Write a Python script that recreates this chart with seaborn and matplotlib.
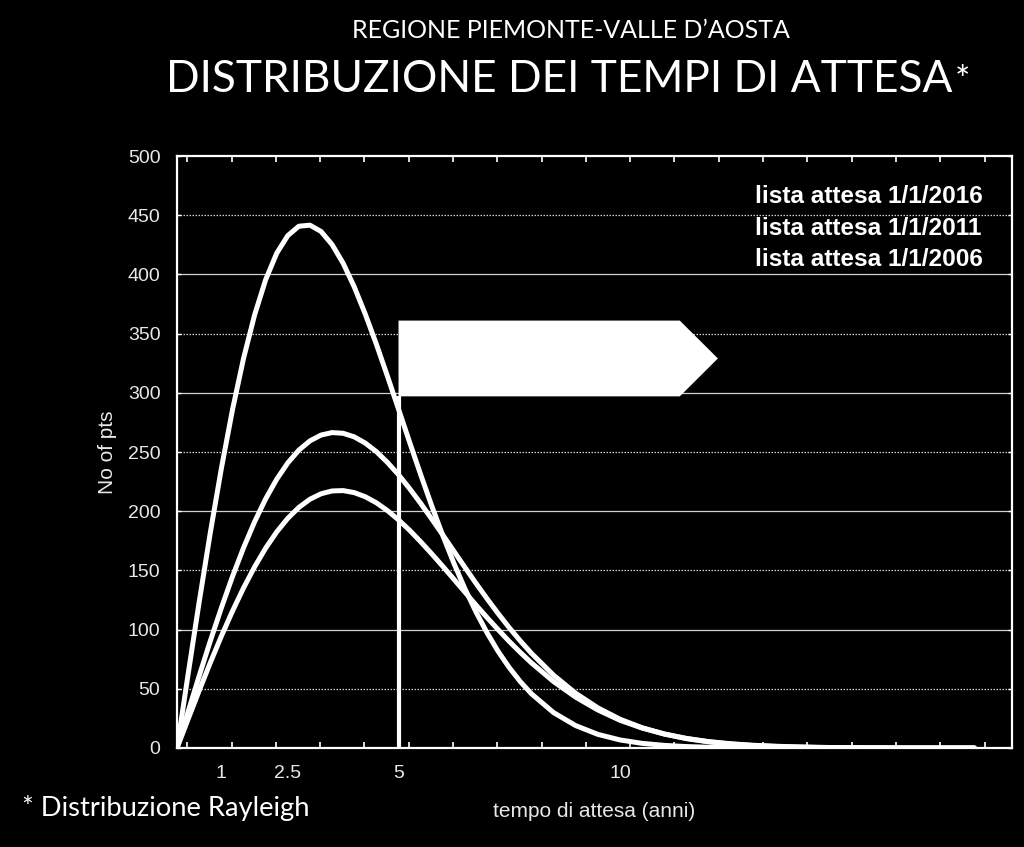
import numpy as np
import pandas as pd
import matplotlib.pyplot as plt
import seaborn as sns

# tempo di attesa (anni) e numero di pazienti
anni = [0, 0.25, 0.5, 0.75, 1, 1.25, 1.5, 1.75, 2, 2.25, 2.5, 2.75, 3, 3.25, 3.5, 3.75,
        4, 4.25, 4.5, 4.75, 5, 5.25, 5.5, 5.75, 6, 6.25, 6.5, 6.75, 7, 7.25, 7.5, 7.75,
        8, 8.5, 9, 9.5, 10, 10.5, 11, 11.5, 12, 12.5, 13, 13.5, 14, 14.5, 15, 15.5,
        16, 16.5, 17, 17.5, 18]
lista_2016 = [0, 62.4, 123.4, 181.7, 236.0, 285.4, 328.9, 365.7, 395.5, 417.9, 432.8,
              440.7, 441.6, 436.3, 425.2, 409.4, 389.5, 366.4, 341.0, 314.0, 286.2,
              258.3, 230.9, 204.5, 179.4, 156.0, 134.4, 114.8, 97.2, 81.5, 67.9, 56.0,
              45.8, 29.9, 18.9, 11.5, 6.8, 3.9, 2.2, 1.2, 0.6, 0.3, 0.1,
              0, 0, 0, 0, 0, 0, 0, 0, 0, 0]
lista_2011 = [0, 30.7, 60.9, 90.3, 118.3, 144.7, 169.0, 191.0, 210.4, 227.0, 240.8,
              251.6, 259.4, 264.3, 266.4, 265.8, 262.8, 257.5, 250.3, 241.2, 230.8,
              219.1, 206.6, 193.4, 179.9, 166.2, 152.5, 139.0, 126.0, 113.5, 101.6, 90.4,
              80.0, 61.5, 46.2, 33.9, 24.3, 17.1, 11.8, 7.9, 5.2, 3.3, 2.1, 1.3, 0.8,
              0.5, 0.3, 0.2, 0.1, 0, 0, 0, 0]
lista_2006 = [0, 24.4, 48.5, 72.0, 94.4, 115.5, 135.1, 152.9, 168.8, 182.5, 194.0,
              203.2, 210.1, 214.7, 217.1, 217.4, 215.7, 212.2, 207.1, 200.5, 192.7,
              183.9, 174.2, 164.0, 153.4, 142.5, 131.6, 120.7, 110.1, 99.9, 90.0, 80.7,
              71.9, 56.1, 42.9, 32.1, 23.4, 16.8, 11.8, 8.1, 5.4, 3.6, 2.3, 1.5, 0.9,
              0.5, 0.3, 0.2, 0.1, 0, 0, 0, 0]
etichette = ['lista attesa 1/1/2016', 'lista attesa 1/1/2011', 'lista attesa 1/1/2006']
xtick_val = [1, 2.5, 5, 10]
xtick_lab = ['1', '2.5', '5', '10']
soglia = 5
freccia_fine = 11.35
freccia_punta = 12.21
freccia_y = (297, 361)

df = pd.DataFrame({
    'anni': anni * 3,
    'pts': lista_2016 + lista_2011 + lista_2006,
    'lista': [etichette[0]] * len(anni) + [etichette[1]] * len(anni) + [etichette[2]] * len(anni),
})

sns.set_theme(style='ticks', rc={'figure.facecolor': 'black', 'axes.facecolor': 'black',
                                 'axes.edgecolor': 'white', 'text.color': 'white'})
plt.rcParams['font.family'] = ['Liberation Sans', 'DejaVu Sans']

fig = plt.figure(figsize=(10.24, 8.47), dpi=100)
ax = fig.add_axes([0.1729, 0.1169, 0.8154, 0.6989])

for liv in range(50, 500, 50):
    ax.axhline(liv, color='#d0d0d0', lw=0.9, zorder=0,
               ls='-' if liv % 100 == 0 else (0, (1.2, 1.2)))

sns.lineplot(data=df, x='anni', y='pts', hue='lista', hue_order=etichette,
             palette=['white'] * 3, linewidth=3.6, ax=ax, zorder=3)

ax.vlines(soglia, 0, freccia_y[0], color='white', lw=3, zorder=4)
ax.fill([soglia, freccia_fine, freccia_punta, freccia_fine, soglia],
        [freccia_y[1], freccia_y[1], sum(freccia_y) / 2, freccia_y[0], freccia_y[0]],
        color='white', zorder=5, lw=0)

ax.set_xlim(0, 18.85)
ax.set_ylim(0, 500)
ax.set_yticks(range(0, 501, 50))
ax.set_xticks(xtick_val)
ax.set_xticklabels(xtick_lab)
ax.set_xticks([0.23 + k for k in range(19)], minor=True)
ax.tick_params(axis='x', which='major', length=0, pad=12, labelsize=14, colors='#e8e8e8')
ax.tick_params(axis='x', which='minor', direction='in', length=4, width=1.2,
               top=True, bottom=True, color='white')
ax.tick_params(axis='y', direction='in', length=3, width=1, left=True, right=True,
               pad=12, labelsize=14, colors='#e8e8e8')
ax.tick_params(axis='y', color='white')
for sp in ax.spines.values():
    sp.set_color('white')
    sp.set_linewidth(1.6)

ax.set_xlabel('tempo di attesa (anni)', fontsize=15, color='#e8e8e8', labelpad=15)
ax.set_ylabel('No of pts', fontsize=15, color='#e8e8e8', labelpad=8)

leg = ax.legend(loc='upper right', bbox_to_anchor=(0.965, 0.951), frameon=False,
                handlelength=0, handletextpad=0, borderaxespad=0, borderpad=0,
                labelspacing=0.35, prop={'weight': 'bold', 'size': 17.6})
for h in leg.legend_handles:
    h.set_visible(False)
for t in leg.get_texts():
    t.set_color('white')

fig.text(0.5576, 1 - 30 / 847, 'REGIONE PIEMONTE-VALLE D\u2019AOSTA', ha='center', va='center',
         fontsize=18, family='Lato', color='white')
tit = fig.text(0.546, 1 - 79 / 847, 'DISTRIBUZIONE DEI TEMPI DI ATTESA', ha='center', va='center',
               fontsize=31.9, family='Lato', color='white')
ax.annotate('*', xy=(1, 0.5), xycoords=tit, xytext=(2, -2), textcoords='offset points',
            ha='left', va='center', fontsize=26, family='Lato', color='white')
fig.text(22 / 1024, 1 - 808 / 847, '* Distribuzione Rayleigh', ha='left', va='center',
         fontsize=19.7, family='Lato', color='white')

fig.savefig('out.png', dpi=100, facecolor='black')
